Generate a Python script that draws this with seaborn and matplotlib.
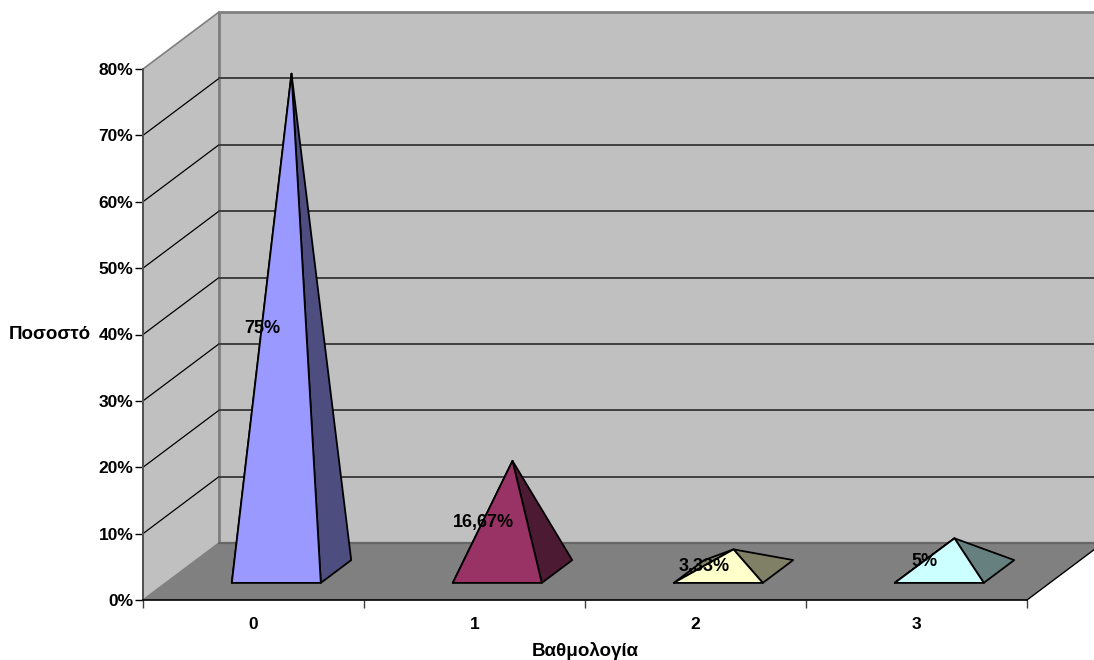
import numpy as np
import pandas as pd
import matplotlib.pyplot as plt
import seaborn as sns

# Dados do gráfico
categorias = ['0', '1', '2', '3']
valores = [75, 16.67, 3.33, 5]
rotulos = ['75%', '16,67%', '3,33%', '5%']
cores = ['#9999FF', '#993366', '#FFFFCC', '#CCFFFF']
cores_sombra = ['#4D4D80', '#4D1A33', '#808066', '#668080']
marcas_y = [0, 10, 20, 30, 40, 50, 60, 70, 80]

sns.set_style('white')
plt.rcParams['font.family'] = ['Liberation Sans', 'DejaVu Sans']
plt.rcParams['font.weight'] = 'bold'
plt.rcParams['text.color'] = 'black'
plt.rcParams['axes.labelcolor'] = 'black'
plt.rcParams['xtick.labelcolor'] = 'black'
plt.rcParams['ytick.labelcolor'] = 'black'

fig = plt.figure(figsize=(10.94, 6.6), dpi=100)
ax = fig.add_axes([143 / 1094, 60 / 660, 884 / 1094, 531 / 660])
ax.set_xlim(0, 4)
ax.set_ylim(0, 80)
ax.patch.set_alpha(0)

# Profundidade da projeção oblíqua, em unidades dos eixos
DX = 76 / 221
DY = 57 / 6.6375


def proj(x, y, d):
    return x + DX * d, y + DY * d


def face(pontos, **kw):
    xs, ys = zip(*[proj(*p) for p in pontos])
    ax.fill(xs, ys, clip_on=False, **kw)


# Paredes e chão
face([(0, 0, 0), (0, 0, 1), (0, 80, 1), (0, 80, 0)], fc='#C0C0C0', ec='#808080', lw=1.2, zorder=1)
face([(0, 0, 1), (4, 0, 1), (4, 80, 1), (0, 80, 1)], fc='#C0C0C0', ec='#808080', lw=2, zorder=1)
face([(0, 0, 0), (4, 0, 0), (4, 0, 1), (0, 0, 1)], fc='#808080', ec='none', zorder=2)

# Linhas de grade
linhas_lado = []
linhas_fundo = []
for v in marcas_y[1:-1]:
    for d in [0, 1]:
        x, y = proj(0, v, d)
        linhas_lado.append({'x': x, 'y': y, 'v': v})
    for c in [0, 4]:
        x, y = proj(c, v, 1)
        linhas_fundo.append({'x': x, 'y': y, 'v': v})
sns.lineplot(data=pd.DataFrame(linhas_lado), x='x', y='y', units='v', estimator=None, sort=False,
             color='black', lw=0.9, ax=ax, clip_on=False, zorder=3)
sns.lineplot(data=pd.DataFrame(linhas_fundo), x='x', y='y', units='v', estimator=None, sort=False,
             color='#404040', lw=1.4, ax=ax, clip_on=False, zorder=3)
x0, y0 = proj(0, 0, 1)
x1, y1 = proj(4, 0, 1)
ax.plot([x0, x1], [y0, y1], color='#666666', lw=1.6, clip_on=False, zorder=3)
x0, y0 = proj(4, 0, 0)
x1, y1 = proj(4, 0, 1)
ax.plot([x0, x1], [y0, y1], color='black', lw=1, clip_on=False, zorder=3)

# Pirâmides
MEIA_L = 44.5 / 221
D_FRENTE = 0.3
D_TRAS = 0.7
borda = dict(ec='black', lw=1.3, joinstyle='round', zorder=4)
for i, v in enumerate(valores):
    c = i + 0.5
    esq, dir_ = c - MEIA_L, c + MEIA_L
    topo = (c, v, 0.5)
    fe = (esq, 0, D_FRENTE)
    fd = (dir_, 0, D_FRENTE)
    td = (dir_, 0, D_TRAS)
    te = (esq, 0, D_TRAS)
    face([fe, te, topo], fc=cores_sombra[i], **borda)
    face([fd, td, topo], fc=cores_sombra[i], **borda)
    face([fe, fd, topo], fc=cores[i], **borda)
    # Rótulo de dados
    lx, ly = proj(c, v / 2, 0.5)
    ax.text(lx - 29.5 / 221, ly - 0.95, rotulos[i], ha='center', va='center', color='black',
            fontsize=13, fontweight='bold', zorder=5, clip_on=False)

# Eixos
for lado in ['top', 'right']:
    ax.spines[lado].set_visible(False)
ax.spines['left'].set_color('#505050')
ax.spines['left'].set_linewidth(1.4)
ax.spines['bottom'].set_color('black')
ax.spines['bottom'].set_linewidth(1.2)
for s in ax.spines.values():
    s.set_zorder(3.5)

ax.set_yticks(marcas_y)
ax.set_yticklabels([f'{m}%' for m in marcas_y], fontsize=12.5, fontweight='bold')
ax.set_xticks(np.arange(5))
ax.set_xticklabels([])
ax.set_xticks(np.arange(4) + 0.5, minor=True)
ax.set_xticklabels(categorias, minor=True, fontsize=12.5, fontweight='bold')
ax.tick_params(axis='x', which='major', length=6, width=1, color='#404040', bottom=True)
ax.tick_params(axis='x', which='minor', length=0, pad=12)
ax.tick_params(axis='y', length=6, width=1, color='black', left=True, pad=1)

ax.set_xlabel('Βαθμολογία', fontsize=13.5, fontweight='bold', va='center')
ax.xaxis.set_label_coords(0.5, -51 / 531)
ax.set_ylabel('Ποσοστό', fontsize=13.5, fontweight='bold', rotation=0, ha='center', va='center')
ax.yaxis.set_label_coords(-93 / 884, 0.5)

plt.savefig('out.png', dpi=100)
